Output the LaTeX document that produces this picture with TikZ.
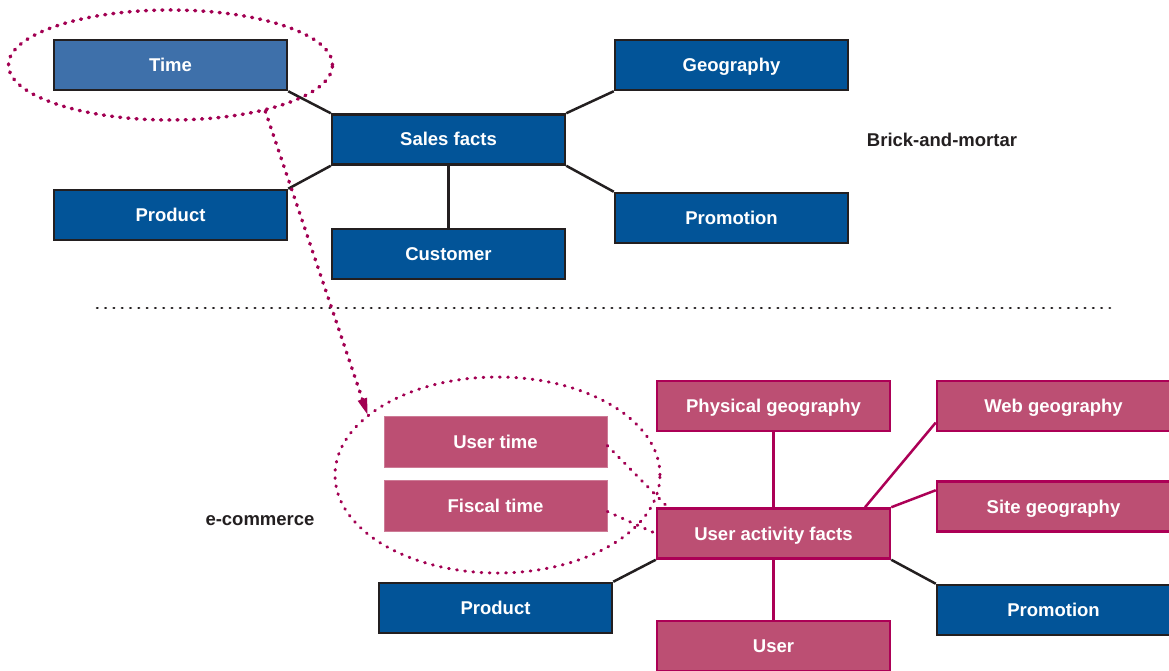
\documentclass[tikz,border=0pt]{standalone}
\usepackage{fontspec}
\setmainfont{Liberation Sans}
\usetikzlibrary{arrows.meta,shapes.geometric}
\definecolor{factblue}{RGB}{2,84,152}
\definecolor{timeblue}{RGB}{62,112,170}
\definecolor{webpink}{RGB}{188,79,115}
\definecolor{webedge}{RGB}{172,0,86}
\definecolor{dotpink}{RGB}{162,0,82}
\definecolor{edgegray}{RGB}{35,31,32}
\begin{document}
\begin{tikzpicture}[x=1pt, y=-1pt,
        every node/.style={font=\fontsize{18.5}{22}\selectfont\bfseries, text height=15pt, text depth=2pt},
        dimbox/.style={draw=edgegray, line width=2.5pt, fill=factblue, text=white,
            minimum width=233pt, minimum height=50pt, inner sep=0pt},
        webbox/.style={dimbox, draw=webedge, fill=webpink},
        timebox/.style={dimbox, draw=webpink!75!white, line width=0.6pt, fill=webpink,
            minimum width=223pt, minimum height=51pt},
        link/.style={edgegray, line width=2.5pt},
        weblink/.style={webedge, line width=2.5pt},
        bigdots/.style={dotpink, line width=3.5pt, line cap=round, dash pattern=on 1pt off 7.2pt},
        smalldots/.style={dotpink, line width=3pt, line cap=round, dash pattern=on 0.8pt off 7.4pt},
        label/.style={text=edgegray}]
    \useasboundingbox (0,0) rectangle (1169,671);
    % brick-and-mortar star
    \node[dimbox, fill=timeblue] (time) at (170.5,65) {Time};
    \node[dimbox] (sales) at (448.5,139.5) {Sales facts};
    \node[dimbox] (geo) at (731.5,65) {Geography};
    \node[dimbox] (prodA) at (170.5,215) {Product};
    \node[dimbox] (cust) at (448.5,254) {Customer};
    \node[dimbox] (promoA) at (731.5,218) {Promotion};
    \node[label] (brick) at (942,140) {Brick-and-mortar};
    \draw[link] (time.south east) -- (sales.north west);
    \draw[link] (prodA.north east) -- (sales.south west);
    \draw[link] (geo.south west) -- (sales.north east);
    \draw[link] (promoA.north west) -- (sales.south east);
    \draw[link] (sales) -- (cust);
    % separator
    \draw[edgegray, line width=2.6pt, line cap=round, dash pattern=on 0.6pt off 7.7pt] (97,308) -- (1110,308);
    % e-commerce star
    \node[webbox] (pgeo) at (773.5,406) {Physical geography};
    \node[webbox] (webgeo) at (1053.5,406) {Web geography};
    \node[webbox] (sitegeo) at (1053.5,506.5) {Site geography};
    \node[webbox] (uaf) at (773.5,533.5) {User activity facts};
    \node[dimbox] (prodB) at (495.5,608) {Product};
    \node[dimbox] (promoB) at (1053.5,610) {Promotion};
    \node[webbox] (user) at (773.5,646) {User};
    \node[timebox] (usertime) at (495.5,441.5) {User time};
    \node[timebox] (fiscal) at (495.5,505.5) {Fiscal time};
    \node[label] (ecom) at (260,519) {e-commerce};
    \draw[weblink] (uaf) -- (pgeo);
    \draw[weblink] (uaf.16) -- (webgeo.188);
    \draw[weblink] (uaf.north east) -- ([yshift=-10pt]sitegeo.north west);
    \draw[weblink] (uaf) -- (user);
    \draw[link] (prodB.north east) -- (uaf.south west);
    \draw[link] (promoB.north west) -- (uaf.south east);
    % time rings
    \node[ellipse, draw, bigdots, minimum width=324pt, minimum height=110pt] (timering) at (170.5,65) {};
    \node[ellipse, draw, smalldots, minimum width=325pt, minimum height=196pt] (userring) at (497.5,475) {};
    \draw[bigdots, -{Triangle[length=16pt, width=10pt, line width=0pt]}] (timering.-26) -- (userring.155);
    \draw[smalldots] ([yshift=-4pt]usertime.east) -- ([xshift=12pt]uaf.north west);
    \draw[smalldots] ([yshift=-6pt]fiscal.east) -- (uaf.west);
\end{tikzpicture}
\end{document}
